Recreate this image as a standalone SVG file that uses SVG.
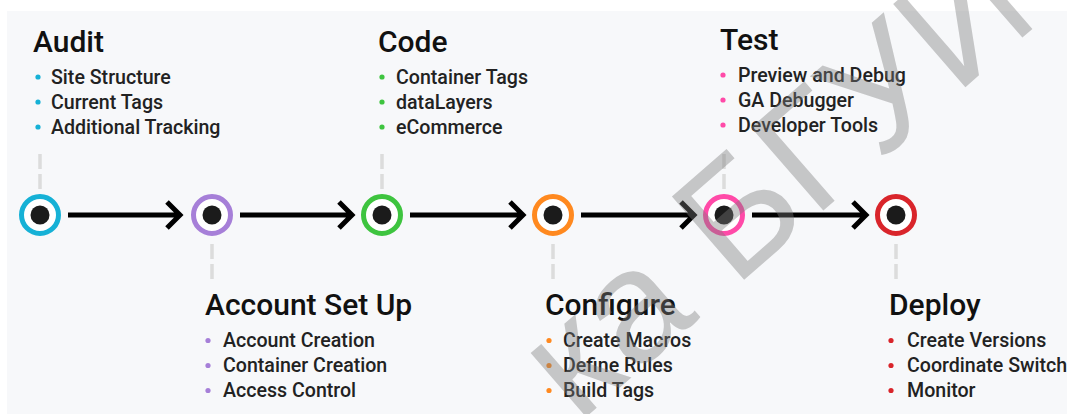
<svg xmlns="http://www.w3.org/2000/svg" width="1067" height="414" viewBox="0 0 1067 414">
<defs>
<style>
.title{font-family:Roboto,"Liberation Sans",Arial,sans-serif;font-weight:500;font-size:30px;fill:#111}
.item{font-family:Roboto,"Liberation Sans",Arial,sans-serif;font-weight:500;font-size:19.6px;fill:#222}
.ring{fill:#fff;stroke-width:5}
.dot{fill:#1b1b1b}
.dash{stroke:#dcdcdc;stroke-width:3.5;stroke-dasharray:15 5;fill:none}
.arrow{stroke:#000;stroke-width:5;fill:none;stroke-linejoin:miter}
.wm{font-family:"Liberation Sans",Arial,sans-serif;font-size:160px;fill:#7a7a7a;fill-opacity:0.4}
</style>
</defs>
<rect x="0" y="0" width="1067" height="414" fill="#fff"/>
<rect x="7" y="11" width="1060" height="403" fill="#f7f8fa"/>

<g id="connectors">
<path class="arrow" d="M68 215H180M167 202L180 215L167 228"/>
<path class="arrow" d="M240 215H352M339 202L352 215L339 228"/>
<path class="arrow" d="M410 215H523M510 202L523 215L510 228"/>
<path class="arrow" d="M581 215H694M681 202L694 215L681 228"/>
<path class="arrow" d="M752 215H866M853 202L866 215L853 228"/>
</g>

<g id="audit">
<line class="dash" x1="40" y1="154" x2="40" y2="190"/>
<circle class="ring" cx="40" cy="215" r="18.5" stroke="#16b1d6"/>
<circle class="dot" cx="40" cy="215" r="9.5"/>
<text class="title" x="33" y="52">Audit</text>
<g fill="#16b1d6"><circle cx="38" cy="77" r="2.6"/><circle cx="38" cy="102" r="2.6"/><circle cx="38" cy="127" r="2.6"/></g>
<text class="item" x="51" y="83.5">Site Structure</text>
<text class="item" x="51" y="108.5">Current Tags</text>
<text class="item" x="51" y="133.5">Additional Tracking</text>
</g>

<g id="account-set-up">
<line class="dash" x1="212" y1="244" x2="212" y2="280"/>
<circle class="ring" cx="212" cy="215" r="18.5" stroke="#a67fd8"/>
<circle class="dot" cx="212" cy="215" r="9.5"/>
<text class="title" x="205" y="315">Account Set Up</text>
<g fill="#a67fd8"><circle cx="208" cy="340.5" r="2.6"/><circle cx="208" cy="365.5" r="2.6"/><circle cx="208" cy="390.5" r="2.6"/></g>
<text class="item" x="223" y="347">Account Creation</text>
<text class="item" x="223" y="372">Container Creation</text>
<text class="item" x="223" y="397">Access Control</text>
</g>

<g id="code">
<line class="dash" x1="382" y1="154" x2="382" y2="190"/>
<circle class="ring" cx="382" cy="215" r="18.5" stroke="#3ec43f"/>
<circle class="dot" cx="382" cy="215" r="9.5"/>
<text class="title" x="378" y="52">Code</text>
<g fill="#3ec43f"><circle cx="382" cy="77" r="2.6"/><circle cx="382" cy="102" r="2.6"/><circle cx="382" cy="127" r="2.6"/></g>
<text class="item" x="396" y="83.5">Container Tags</text>
<text class="item" x="396" y="108.5">dataLayers</text>
<text class="item" x="396" y="133.5">eCommerce</text>
</g>

<g id="configure">
<line class="dash" x1="553" y1="244" x2="553" y2="280"/>
<circle class="ring" cx="553" cy="215" r="18.5" stroke="#ff891f"/>
<circle class="dot" cx="553" cy="215" r="9.5"/>
<text class="title" x="545" y="315">Configure</text>
<g fill="#ff891f"><circle cx="549" cy="340.5" r="2.6"/><circle cx="549" cy="365.5" r="2.6"/><circle cx="549" cy="390.5" r="2.6"/></g>
<text class="item" x="563" y="347">Create Macros</text>
<text class="item" x="563" y="372">Define Rules</text>
<text class="item" x="563" y="397">Build Tags</text>
</g>

<g id="test">
<line class="dash" x1="724" y1="154" x2="724" y2="190"/>
<circle class="ring" cx="724" cy="215" r="18.5" stroke="#ff4aa8"/>
<circle class="dot" cx="724" cy="215" r="9.5"/>
<text class="title" x="720" y="50">Test</text>
<g fill="#ff4aa8"><circle cx="723" cy="75" r="2.6"/><circle cx="723" cy="100" r="2.6"/><circle cx="723" cy="125" r="2.6"/></g>
<text class="item" x="738" y="81.5">Preview and Debug</text>
<text class="item" x="738" y="106.5">GA Debugger</text>
<text class="item" x="738" y="131.5">Developer Tools</text>
</g>

<g id="deploy">
<line class="dash" x1="896" y1="244" x2="896" y2="280"/>
<circle class="ring" cx="896" cy="215" r="18.5" stroke="#d9252b"/>
<circle class="dot" cx="896" cy="215" r="9.5"/>
<text class="title" x="889" y="315">Deploy</text>
<g fill="#d9252b"><circle cx="891" cy="340.5" r="2.6"/><circle cx="891" cy="365.5" r="2.6"/><circle cx="891" cy="390.5" r="2.6"/></g>
<text class="item" x="907" y="347">Create Versions</text>
<text class="item" x="907" y="372">Coordinate Switch</text>
<text class="item" x="907" y="397">Monitor</text>
</g>

<text class="wm" transform="translate(578,424) rotate(-41)">ка БГУИ</text>
</svg>
